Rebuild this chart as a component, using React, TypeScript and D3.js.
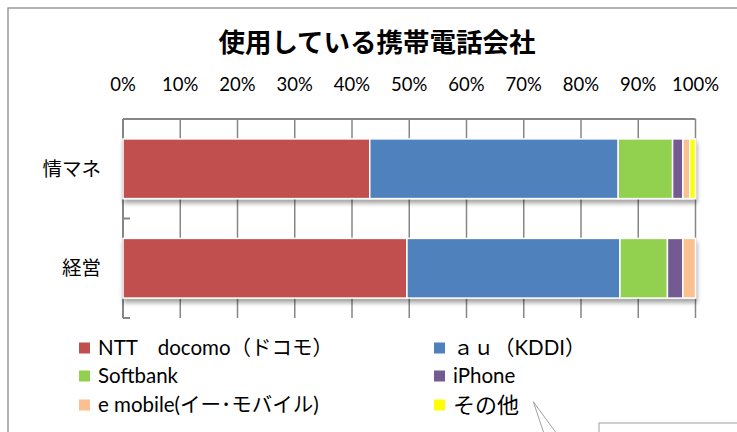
import React from "react";
import * as d3 from "d3";

const title = "使用している携帯電話会社";
const categories = ["情マネ", "経営"];
const seriesNames = [
  "NTT　docomo（ドコモ）",
  "ａｕ（KDDI）",
  "Softbank",
  "iPhone",
  "e mobile(イー･モバイル)",
  "その他",
];
const docomo = [43.1, 49.6];
const au = [43.4, 37.2];
const softbank = [9.5, 8.3];
const iphone = [1.8, 2.7];
const emobile = [1.2, 2.2];
const other = [1.0, 0];
const colors = ["#C0504D", "#4F81BD", "#92D050", "#735A93", "#FAC090", "#FFFF00"];
const tickValues = [0, 10, 20, 30, 40, 50, 60, 70, 80, 90, 100];

const seriesValues = [docomo, au, softbank, iphone, emobile, other];

export default function App() {
  const W = 737;
  const H = 432;
  const x = d3.scaleLinear().domain([0, 100]).range([123, 695.5]);
  const y = d3
    .scaleBand<string>()
    .domain(categories)
    .range([119, 318])
    .paddingInner(0.4)
    .paddingOuter(0.2);

  const rows = categories.map((c, i) => {
    const r: any = { cat: c };
    seriesNames.forEach((s, j) => (r[s] = seriesValues[j][i]));
    return r;
  });
  const stacked = d3.stack<any>().keys(seriesNames)(rows);

  const plotTop = 119;
  const plotBottom = 318;
  const catTicks = [plotTop, plotTop + (plotBottom - plotTop) / 2, plotBottom];

  const legendPos = [
    [79, 348],
    [434, 348],
    [79, 376],
    [434, 376],
    [79, 405],
    [434, 405],
  ];

  const latin = "Lato, 'Noto Sans CJK JP', sans-serif";

  return (
    <svg
      width={W}
      height={H}
      style={{ position: "absolute", left: 0, top: 0, background: "#fff" }}
    >
      <defs>
        <filter id="shadow" x="-5%" y="-20%" width="110%" height="150%">
          <feDropShadow dx="1" dy="4" stdDeviation="2" floodColor="#000" floodOpacity="0.35" />
        </filter>
      </defs>
      {/* chart border */}
      <rect x={8} y={8} width={W + 20} height={H + 20} fill="#fff" stroke="#9a9a9a" strokeWidth={1.5} />

      {/* title */}
      <text
        x={377}
        y={52}
        textAnchor="middle"
        fontFamily="'Noto Sans CJK JP', sans-serif"
        fontWeight="bold"
        fontSize={26.5}
        fill="#000"
      >
        {title}
      </text>

      {/* tick labels */}
      {tickValues.map((t) => (
        <text
          key={t}
          x={x(t)}
          y={91}
          textAnchor="middle"
          fontFamily={latin}
          fontSize={18.5}
          fill="#000"
        >
          {t}%
        </text>
      ))}

      {/* gridlines */}
      {tickValues.map((t) => (
        <line
          key={"g" + t}
          x1={x(t)}
          x2={x(t)}
          y1={plotTop}
          y2={plotBottom}
          stroke="#868686"
          strokeWidth={1.5}
        />
      ))}
      <line x1={x(0)} x2={x(100)} y1={plotTop} y2={plotTop} stroke="#868686" strokeWidth={2} />
      <line x1={x(0)} x2={x(0)} y1={plotTop} y2={plotBottom} stroke="#868686" strokeWidth={2} />
      {catTicks.map((ty, i) => (
        <line key={"ct" + i} x1={x(0)} x2={x(0) + 7} y1={ty} y2={ty} stroke="#868686" strokeWidth={2} />
      ))}

      {/* bars */}
      <g filter="url(#shadow)">
        {stacked.map((s, j) =>
          s.map((d, i) =>
            d[1] - d[0] > 0 ? (
              <rect
                key={j + "-" + i}
                x={x(d[0])}
                y={y(categories[i])}
                width={x(d[1]) - x(d[0])}
                height={y.bandwidth()}
                fill={colors[j]}
                stroke="#fff"
                strokeWidth={1.5}
              />
            ) : null
          )
        )}
      </g>

      {/* category labels */}
      {categories.map((c) => (
        <text
          key={c}
          x={101}
          y={(y(c) as number) + y.bandwidth() / 2}
          dy="0.36em"
          textAnchor="end"
          fontFamily="'Noto Sans CJK JP', sans-serif"
          fontSize={19.5}
          fill="#000"
        >
          {c}
        </text>
      ))}

      {/* legend */}
      {seriesNames.map((s, j) => {
        const [lx, ly] = legendPos[j];
        const isOther = j === 5;
        return (
          <g key={s}>
            <rect x={lx} y={ly - 5.5} width={11} height={11} fill={colors[j]} />
            <text
              x={lx + 19}
              y={ly}
              dy="0.36em"
              fontFamily={isOther ? "'Noto Sans CJK JP', sans-serif" : latin}
              fontSize={isOther ? 22 : 20.5}
              fill="#000"
            >
              {s}
            </text>
          </g>
        );
      })}

      {/* callout */}
      <rect x={599} y={423} width={200} height={60} fill="#fff" stroke="#a0a0a0" strokeWidth={1} />
      <line x1={533.3} y1={401.7} x2={546.5} y2={441} stroke="#a0a0a0" strokeWidth={1} />
      <line x1={533.3} y1={401.7} x2={562} y2={441} stroke="#a0a0a0" strokeWidth={1} />
    </svg>
  );
}
